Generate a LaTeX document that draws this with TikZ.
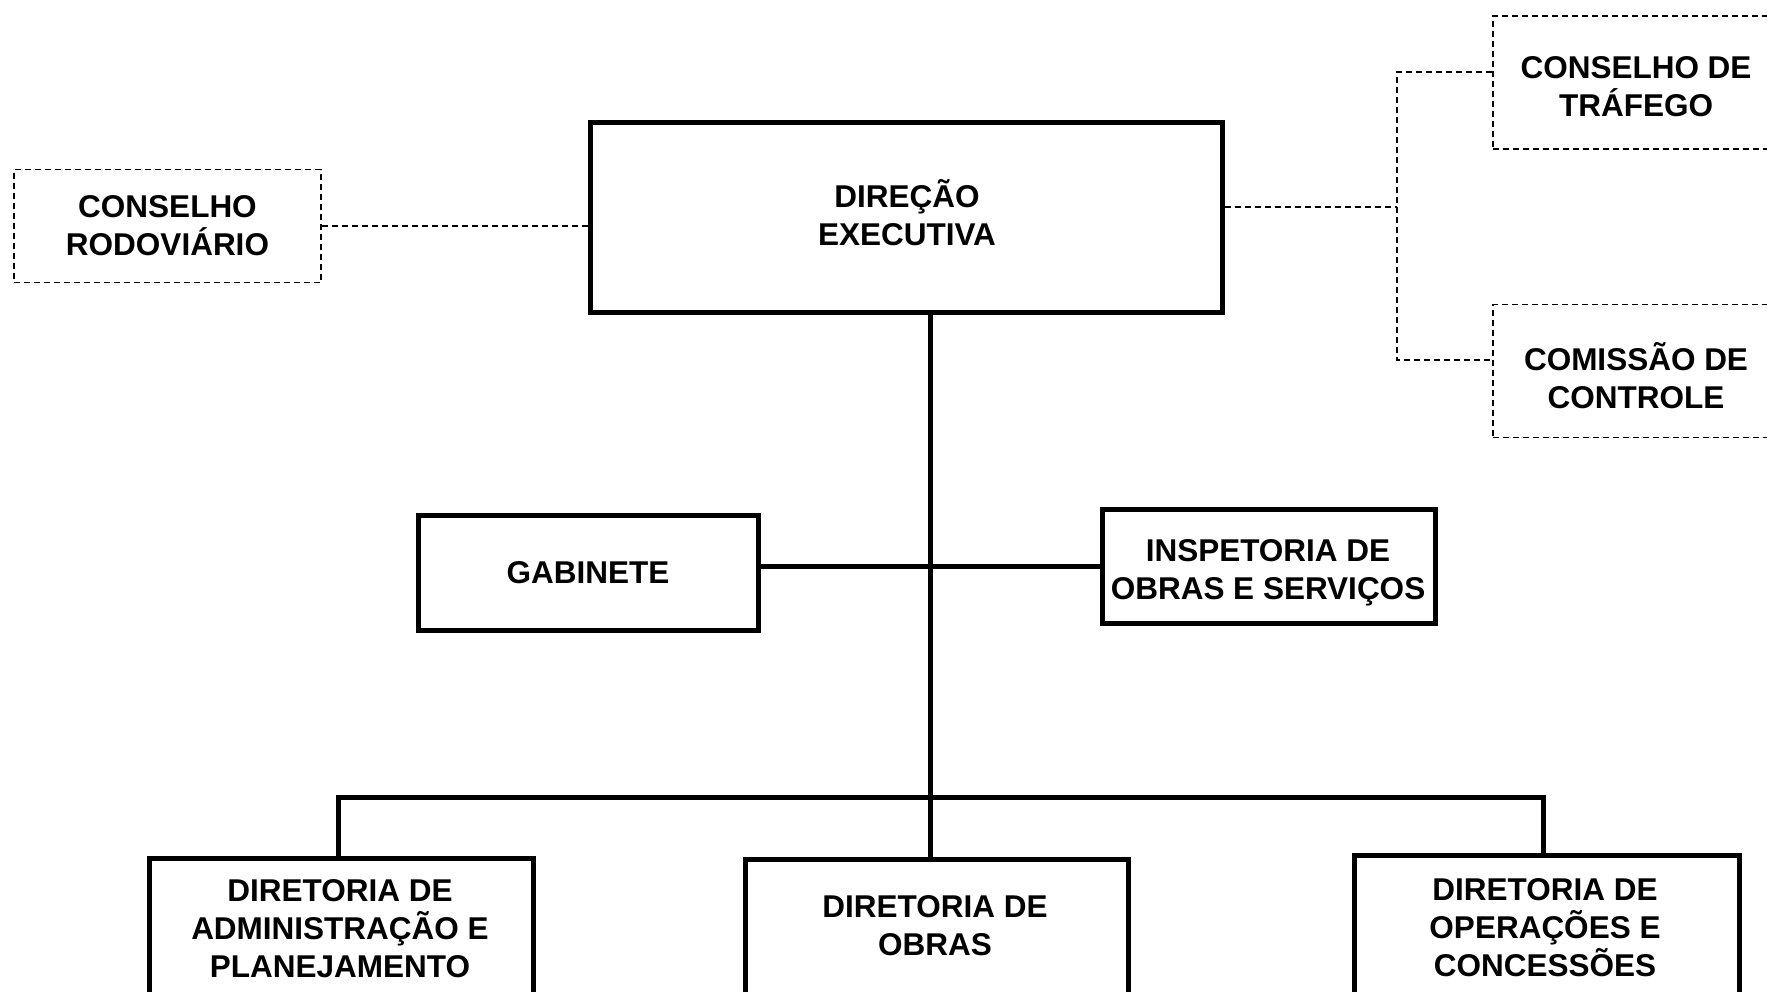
\documentclass[tikz,border=0pt]{standalone}
\usepackage{fontspec}
\setmainfont{Liberation Sans}
\begin{document}
\begin{tikzpicture}[x=1pt,y=-1pt,
  lbl/.style={font=\fontsize{31.5}{38}\selectfont\bfseries, align=center, inner sep=0pt},
  solidbox/.style={draw, line width=5pt, inner sep=0pt, lbl},
  dashbox/.style={draw, line width=1.8pt, dash pattern=on 6pt off 4pt, inner sep=0pt, lbl},
  solidline/.style={line width=5pt, line join=miter},
  dashline/.style={line width=1.8pt, dash pattern=on 6pt off 4pt}]
\useasboundingbox (0,0) rectangle (1767,991);
\clip (0,0) rectangle (1767,991);
\fill[white] (0,0) rectangle (1767,991);

% boxes
\node[solidbox, minimum width=632pt, minimum height=190pt] (dir) at (906,217) {};
\node[lbl] (dirt) at (907,212.5) {DIREÇÃO\\EXECUTIVA};
\node[dashbox, minimum width=307pt, minimum height=113pt] (cr) at (167.5,226) {CONSELHO\\RODOVIÁRIO};
\node[dashbox, minimum width=286pt, minimum height=133pt] (traf) at (1636,82.5) {};
\node[lbl] (traft) at (1636,86.5) {CONSELHO DE\\TRÁFEGO};
\node[dashbox, minimum width=286pt, minimum height=133pt] (comi) at (1636,371) {};
\node[lbl] (comit) at (1636,376) {COMISSÃO DE\\CONTROLE};
\node[solidbox, minimum width=340pt, minimum height=115pt] (gab) at (588,573) {GABINETE};
\node[solidbox, minimum width=333pt, minimum height=114pt] (insp) at (1269,566.5) {};
\node[lbl] (inspt) at (1268,572.5) {INSPETORIA DE\\OBRAS E SERVIÇOS};

\node[solidbox, minimum width=384pt, minimum height=160pt] (dap) at (341,938.5) {};
\node[lbl] (dapt) at (340,929) {DIRETORIA DE\\ADMINISTRAÇÃO E\\PLANEJAMENTO};
\node[solidbox, minimum width=383pt, minimum height=160pt] (dob) at (936.5,939.5) {};
\node[lbl] (dobt) at (935,926) {DIRETORIA DE\\OBRAS};
\node[solidbox, minimum width=385pt, minimum height=160pt] (doc) at (1547,935.5) {};
\node[lbl] (doct) at (1545,927.5) {DIRETORIA DE\\OPERAÇÕES E\\CONCESSÕES};

% junction coordinates
\coordinate (bus) at (930,797);
\coordinate (bl) at (338,797);
\coordinate (br) at (1543,797);
\coordinate (rj) at (1397,207);
\coordinate (rt) at (1397,72);
\coordinate (rc) at (1397,360);

% solid connectors
\draw[solidline] (dir.south -| bus) -- (bus);
\draw[solidline] (bus) -- (bus |- dob.north);
\draw[solidline] (bl |- dap.north) -- (bl) -- (br) -- (br |- doc.north);
\draw[solidline] (gab.east |- insp.west) -- (insp.west);

% dashed connectors
\draw[dashline] (cr.east) -- (dir.west |- cr.east);
\draw[dashline] (dir.east |- rj) -- (rj);
\draw[dashline] (traf.west |- rt) -- (rt) -- (rc) -- (comi.west |- rc);
\end{tikzpicture}
\end{document}
